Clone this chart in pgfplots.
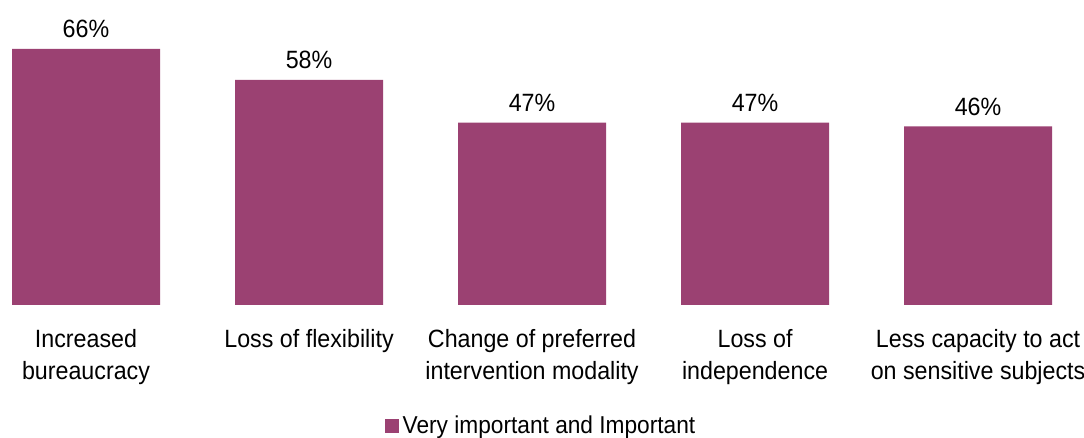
\documentclass[border=0pt]{standalone}
\usepackage{pgfplots}
\pgfplotsset{compat=1.18}
\usepackage{fontspec}
\setmainfont{Liberation Sans}[FakeStretch=0.93]
\definecolor{barcol}{RGB}{155,65,114}

\begin{document}
\begin{tikzpicture}
\begin{axis}[
name=ax,
at={(0,0)}, anchor=south west,
scale only axis,
width=542pt, height=152.5pt,
xmin=-0.3857, xmax=4.475,
ymin=0, ymax=78.6,
axis line style={draw=none},
ytick=\empty,
xtick={0,1,2,3,4},
xticklabels={{Increased\\bureaucracy},{Loss of flexibility},{Change of preferred\\intervention modality},{Loss of\\independence},{Less capacity to act\\on sensitive subjects}},
major tick length=0pt,
xticklabel style={align=center, font=\fontsize{12.5}{16.2}\selectfont, yshift=-8.5pt},
ybar, bar width=74pt,
/pgf/number format/assume math mode=true,
nodes near coords={\pgfmathprintnumber{\pgfplotspointmeta}\%},
every node near coord/.append style={font=\fontsize{12.5}{15}\selectfont, black, yshift=2pt},
legend style={at={(0.5,-0.398)}, anchor=center, draw=none, font=\fontsize{12.2}{15}\selectfont, inner sep=0pt},
legend image code/.code={\fill[barcol] (0pt,-3.5pt) rectangle (7pt,3.5pt);},
]
\addplot[fill=barcol, draw=none] coordinates {(0,66) (1,58) (2,47) (3,47) (4,46)};
\addlegendentry{Very important and Important}
\end{axis}
\pgfresetboundingbox
\path[use as bounding box] (0,-66.5pt) rectangle (542pt,152.5pt);
\end{tikzpicture}
\end{document}
